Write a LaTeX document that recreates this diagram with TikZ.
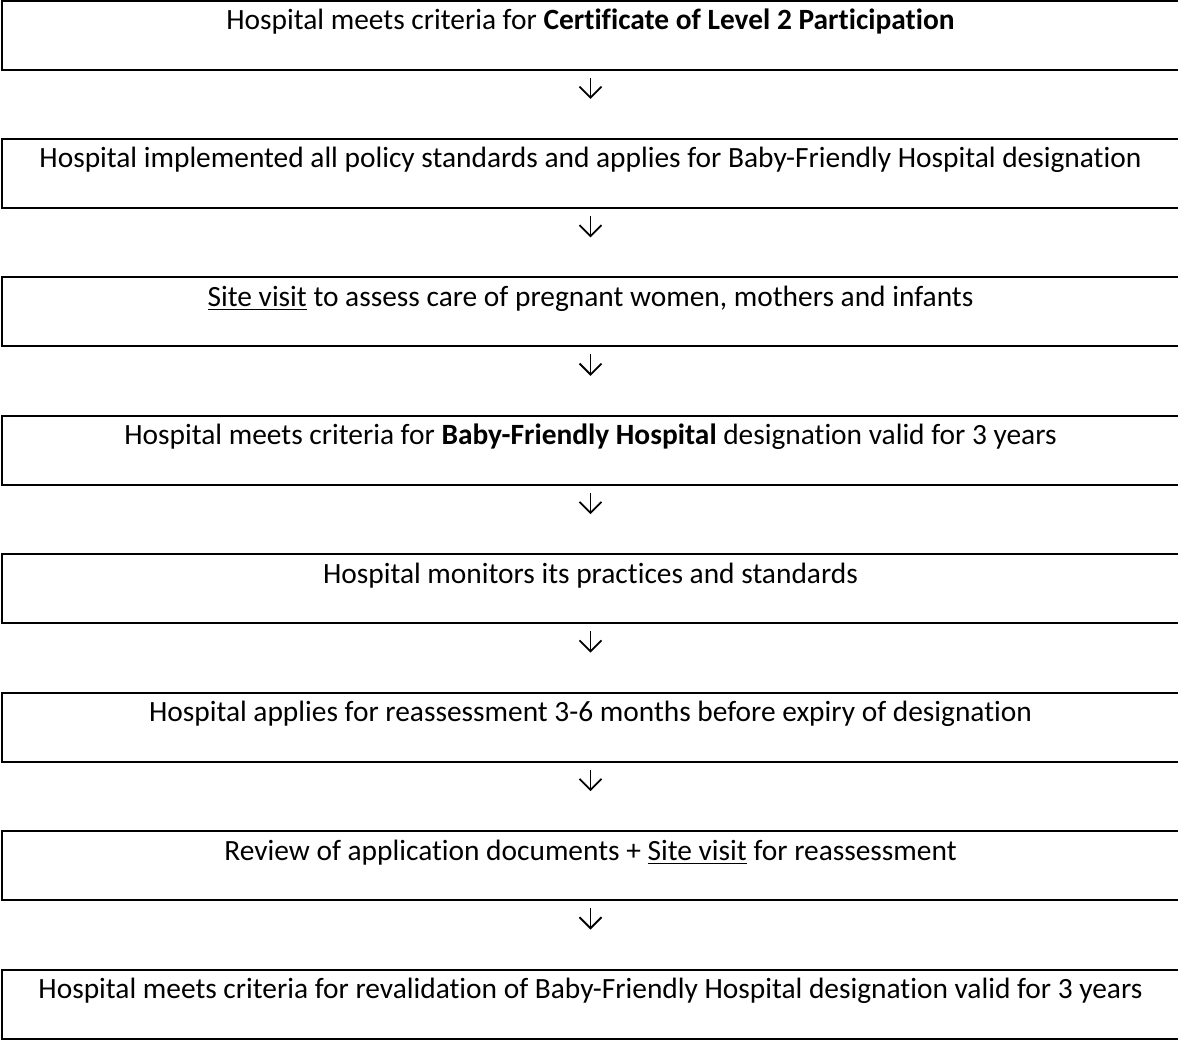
\documentclass[tikz,border=0pt]{standalone}
\usepackage{fontspec}
\setmainfont{Carlito}[Ligatures={NoCommon}]
\usetikzlibrary{arrows.meta}
\begin{document}
\begin{tikzpicture}[x=0.5pt,y=-0.5pt,
  box/.style={draw, line width=1pt, inner sep=0pt, minimum width=588.5pt,
    text height=14.5pt, text depth=20pt, font=\fontsize{14.7}{17}\selectfont},
  arr/.style={line width=0.9pt, -{Straight Barb[length=5.5pt,width=11pt,line width=0.9pt]},
    shorten <=3.5pt, shorten >=19.5pt}]
\useasboundingbox (0,0) rectangle (1178,1039);
\node[box] (b1) at (590.5,35) {Hospital meets criteria for \textbf{Certificate of Level 2 Participation}};
\node[box] (b2) at (590.5,173.43) {Hospital implemented all policy standards and applies for Baby-Friendly Hospital designation};
\node[box] (b3) at (590.5,311.86) {\underline{Site visit} to assess care of pregnant women, mothers and infants};
\node[box] (b4) at (590.5,450.29) {Hospital meets criteria for \textbf{Baby-Friendly Hospital} designation valid for 3 years};
\node[box] (b5) at (590.5,588.72) {Hospital monitors its practices and standards};
\node[box] (b6) at (590.5,727.15) {Hospital applies for reassessment 3-6 months before expiry of designation};
\node[box] (b7) at (590.5,865.58) {Review of application documents + \underline{Site visit} for reassessment};
\node[box] (b8) at (590.5,1004) {Hospital meets criteria for revalidation of Baby-Friendly Hospital designation valid for 3 years};
\foreach \a/\b in {b1/b2,b2/b3,b3/b4,b4/b5,b5/b6,b6/b7,b7/b8}
  \draw[arr] (\a.south) -- (\b.north);
\end{tikzpicture}
\end{document}
